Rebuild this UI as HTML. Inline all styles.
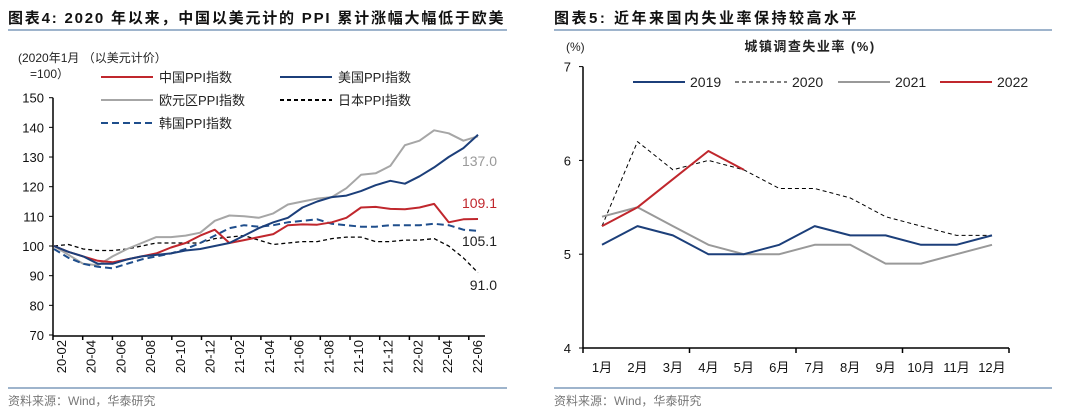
<!DOCTYPE html>
<html><head><meta charset="utf-8">
<style>
body{margin:0;width:1080px;height:414px;background:#fff;overflow:hidden;font-family:"Liberation Sans","Noto Sans CJK SC",sans-serif;}
svg text{font-family:"Liberation Sans","Noto Sans CJK SC",sans-serif;}
</style></head><body>
<svg id="s" width="1080" height="414" xmlns="http://www.w3.org/2000/svg">
<g>
<text x="8" y="23" font-size="15" font-weight="bold" letter-spacing="1.8" fill="#111">图表4:  2020 年以来，中国以美元计的 PPI 累计涨幅大幅低于欧美</text>
<line x1="8" y1="30" x2="507" y2="30" stroke="#7f9cbc" stroke-width="1.5"/>
<line x1="8" y1="388" x2="507" y2="388" stroke="#7f9cbc" stroke-width="1.5"/>
<text x="8" y="405" font-size="12" fill="#777">资料来源：Wind，华泰研究</text>
</g>
<g>
<text x="554" y="23" font-size="15" font-weight="bold" letter-spacing="2.5" fill="#111">图表5:   近年来国内失业率保持较高水平</text>
<line x1="554" y1="30" x2="1052" y2="30" stroke="#7f9cbc" stroke-width="1.5"/>
<line x1="554" y1="388" x2="1052" y2="388" stroke="#7f9cbc" stroke-width="1.5"/>
<text x="554" y="405" font-size="12" fill="#777">资料来源：Wind，华泰研究</text>
</g>
<g id="L"></g>
<g id="R"></g>
</svg>
<script>
// ---- Left chart data ----
const ppiYTicks=[70,80,90,100,110,120,130,140,150];
const ppiXLabels=["20-02","20-04","20-06","20-08","20-10","20-12","21-02","21-04","21-06","21-08","21-10","21-12","22-02","22-04","22-06"];
const chinaPPI=[100,98,96.5,95,94.5,95.5,96.5,97.5,99.5,101,103.5,105.5,101,102,103,104,107,107.3,107.2,108,109.5,113,113.2,112.5,112.4,113,114.2,108,109,109.1];
const usPPI=[100,98,96.5,94,94,95.5,96.5,97,97.5,98.5,99,100,101,103.5,106,108,109.5,113,115,116.5,117,118.5,120.5,122,121,123.5,126.5,130,133,137.5];
const euroPPI=[100,97,94,93.5,96.5,99,101,103,103,103.5,104.5,108.5,110.3,110,109.5,111,114,115,116,116.5,119.5,124,124.5,127,134,135.5,139,138,135.5,137];
const japanPPI=[100,100.5,99,98.5,98.5,99,100,101,101,101,101,102.5,103,103.5,102,100.5,101,101.5,101.5,102.5,103,103,101.5,101.5,102,102,102.5,100,96,91];
const koreaPPI=[99,96,94,93,92.5,94,95.5,96.5,97.5,99,101,103.5,106,107,106.5,107,108,108.5,109,107.5,107,106.5,106.5,107,107,107,107.5,107,105.5,105.1];
const endLabels=["137.0","109.1","105.1","91.0"];
// ---- Right chart data ----
const months=["1月","2月","3月","4月","5月","6月","7月","8月","9月","10月","11月","12月"];
const rateYTicks=[4,5,6,7];
const u2019=[5.1,5.3,5.2,5.0,5.0,5.1,5.3,5.2,5.2,5.1,5.1,5.2];
const u2020=[5.3,6.2,5.9,6.0,5.9,5.7,5.7,5.6,5.4,5.3,5.2,5.2];
const u2021=[5.4,5.5,5.3,5.1,5.0,5.0,5.1,5.1,4.9,4.9,5.0,5.1];
const u2022=[5.3,5.5,5.8,6.1,5.9];

const NS="http://www.w3.org/2000/svg";
function mk(p,tag,a,txt){const e=document.createElementNS(NS,tag);for(const k in a)e.setAttribute(k,a[k]);if(txt!==undefined)e.textContent=txt;p.appendChild(e);return e;}

// Left
const L=document.getElementById('L');
const lx=i=>54+i*14.62, ly=v=>335-(v-70)*(237.3/80);
mk(L,'line',{x1:53,y1:ly(150),x2:53,y2:336,stroke:'#000','stroke-width':1.5});
mk(L,'line',{x1:53,y1:336,x2:485,y2:336,stroke:'#000','stroke-width':1.5});
ppiYTicks.forEach(v=>{
  const t=mk(L,'text',{x:44,y:ly(v)+5,'font-size':13,'text-anchor':'end',fill:'#111'},String(v));
  
  mk(L,'line',{x1:49,y1:ly(v),x2:53,y2:ly(v),stroke:'#000'});
});
ppiXLabels.forEach((s,k)=>{
  const x=53+k*29.7;
  mk(L,'line',{x1:x,y1:336,x2:x,y2:340,stroke:'#000','stroke-width':1.5});
  const t=mk(L,'text',{transform:`translate(${x+13},${340}) rotate(-90)`,'font-size':13,'text-anchor':'end',fill:'#111'},s);
  
});
function line(p,arr,fx,fy,style,name){
  const d=arr.map((v,i)=>(i?'L':'M')+fx(i).toFixed(1)+','+fy(v).toFixed(1)).join('');
  const e=mk(p,'path',Object.assign({d:d,fill:'none','stroke-linejoin':'round'},style));
  
  
}
line(L,japanPPI,lx,ly,{stroke:'#000','stroke-width':1.3,'stroke-dasharray':'4,3'},'japan-ppi-line');
line(L,euroPPI,lx,ly,{stroke:'#a6a6a6','stroke-width':2},'euro-ppi-line');
line(L,koreaPPI,lx,ly,{stroke:'#1f4e8c','stroke-width':2,'stroke-dasharray':'7,4'},'korea-ppi-line');
line(L,chinaPPI,lx,ly,{stroke:'#c0272d','stroke-width':2},'china-ppi-line');
line(L,usPPI,lx,ly,{stroke:'#1c3f7a','stroke-width':2},'us-ppi-line');
const elc=['#999','#c0272d','#222','#222'],ely=[166,208,246,290];
endLabels.forEach((s,i)=>{const t=mk(L,'text',{x:497,y:ely[i],'font-size':14,'text-anchor':'end',fill:elc[i]},s);});
let t=mk(L,'text',{x:18,y:62,'font-size':12,fill:'#222'},'(2020年1月 （以美元计价）');
t=mk(L,'text',{x:30,y:78,'font-size':12,fill:'#222'},'=100）');
const lg=[['中国PPI指数',101,77,'#c0272d',''],['美国PPI指数',280,77,'#1c3f7a',''],['欧元区PPI指数',101,100,'#a6a6a6',''],['日本PPI指数',280,100,'#000','4,3'],['韩国PPI指数',101,123,'#1f4e8c','7,4']];
lg.forEach(g=>{
  const gg=mk(L,'g',{});
  
  
  mk(gg,'line',{x1:g[1],y1:g[2],x2:g[1]+52,y2:g[2],stroke:g[3],'stroke-width':2,'stroke-dasharray':g[4]||'none'});
  mk(gg,'text',{x:g[1]+58,y:g[2]+5,'font-size':13,fill:'#222'},g[0]);
});

// Right
const R=document.getElementById('R');
const rx=i=>602+i*35.45, ry=v=>348-(v-4)*93.8;
mk(R,'line',{x1:583,y1:ry(7),x2:583,y2:348,stroke:'#000','stroke-width':1.5});
mk(R,'line',{x1:583,y1:348,x2:1009,y2:348,stroke:'#000','stroke-width':1.5});
rateYTicks.forEach(v=>{
  const t=mk(R,'text',{x:571,y:ry(v)+5,'font-size':13,'text-anchor':'end',fill:'#111'},String(v));
  
  mk(R,'line',{x1:579,y1:ry(v),x2:583,y2:ry(v),stroke:'#000'});
});
[0,1,2,3,4].forEach(k=>{const x=583+k*106.5;mk(R,'line',{x1:x,y1:348,x2:x,y2:353,stroke:'#000','stroke-width':1.5});});
months.forEach((m,i)=>{const t=mk(R,'text',{x:rx(i),y:372,'font-size':13,'text-anchor':'middle',fill:'#111'},m);});
line(R,u2020,rx,ry,{stroke:'#000','stroke-width':1,'stroke-dasharray':'4,3'},'line-2020');
line(R,u2021,rx,ry,{stroke:'#999','stroke-width':2},'line-2021');
line(R,u2019,rx,ry,{stroke:'#1c3f7a','stroke-width':2},'line-2019');
line(R,u2022,rx,ry,{stroke:'#c0272d','stroke-width':2},'line-2022');
t=mk(R,'text',{x:566,y:51,'font-size':12,fill:'#222'},'(%)');
t=mk(R,'text',{x:810,y:51,'font-size':13,'font-weight':'bold','text-anchor':'middle','letter-spacing':1.5,fill:'#222'},'城镇调查失业率 (%)');
const rl=[['2019',633,'#1c3f7a','',2],['2020',735,'#000','4,3',1],['2021',838,'#999','',2],['2022',940,'#c0272d','',2]];
rl.forEach(g=>{
  const gg=mk(R,'g',{});
  
  
  mk(gg,'line',{x1:g[1],y1:82,x2:g[1]+52,y2:82,stroke:g[2],'stroke-width':g[4],'stroke-dasharray':g[3]||'none'});
  mk(gg,'text',{x:g[1]+57,y:87,'font-size':14,fill:'#222'},g[0]);
});
</script>
</body></html>
